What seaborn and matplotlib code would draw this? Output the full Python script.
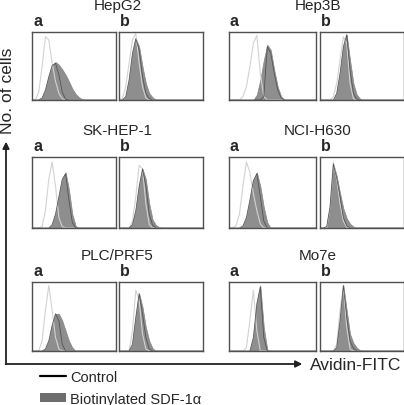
import matplotlib.pyplot as plt
import numpy as np
import seaborn as sns
from matplotlib.lines import Line2D
from matplotlib.patches import Patch

sns.set_style("white")
plt.rcParams["font.family"] = ["Liberation Sans", "DejaVu Sans"]

# Fluorescence channel grid (relative scale 0-100); counts normalised to panel height
channels = [0, 4, 8, 12, 16, 20, 24, 28, 32, 36, 40, 44, 48, 52,
            56, 60, 64, 68, 72, 76, 80, 84, 88, 92, 96, 100]

cell_lines = ["HepG2", "Hep3B", "SK-HEP-1", "NCI-H630", "PLC/PRF5", "Mo7e"]
conditions = ["a", "b"]

# control (light line), biotinylated SDF-1a (filled), dark overlay line
hepg2_a_ctrl = [0, 0, .12, .5, .95, .9, .55, .28, .1, .02, 0]
hepg2_a_sdf = [0, 0, 0, .03, .15, .35, .52, .57, .53, .46, .38, .28, .17, .09, .04, .01, 0]
hepg2_a_dark = [0, 0, 0, .03, .15, .35, .52, .55, .38, .12, .01, 0]
hepg2_b_ctrl = [0, .02, .2, .55, .9, 1.0, .55, .2, .03, 0]
hepg2_b_sdf = [0, 0, .05, .3, .7, .92, .8, .5, .25, .1, .04, 0]
hepg2_b_dark = [0, 0, .05, .3, .7, .92, .75, .35, .1, .02, 0]

hep3b_a_ctrl = [0, 0, 0, 0, .05, .2, .5, .85, .97, .4, .05, 0]
hep3b_a_sdf = [0, 0, 0, 0, 0, 0, 0, 0, .08, .3, .6, .83, .75, .45, .2, .05, 0]
hep3b_a_dark = [0, 0, 0, 0, 0, 0, 0, 0, 0, 0, .05, .8, .7, .4, .15, .03, 0]
hep3b_b_ctrl = [0, 0, 0, 0, .05, .25, .6, .95, .85, .25, .02, 0]
hep3b_b_sdf = [0, 0, 0, 0, 0, .1, .4, .8, .98, .6, .25, .08, .02, 0]
hep3b_b_dark = [0, 0, 0, 0, 0, .1, .4, .8, .98, .45, .1, .01, 0]

skhep1_a_ctrl = [0, 0, 0, .02, .25, .7, .95, .6, .15, .02, 0]
skhep1_a_sdf = [0, 0, 0, 0, 0, 0, .05, .2, .45, .7, .8, .55, .2, .03, 0]
skhep1_a_dark = [0, 0, 0, 0, 0, 0, .05, .2, .45, .7, .78, .4, .08, 0]
skhep1_b_ctrl = [0, 0, 0, 0, .1, .45, .9, .85, .35, .05, 0]
skhep1_b_sdf = [0, 0, 0, 0, .05, .25, .6, .85, .7, .35, .12, .04, .01, 0]
skhep1_b_dark = [0, 0, 0, 0, .05, .25, .6, .85, .6, .2, .04, 0]

ncih630_a_ctrl = [0, 0, .03, .2, .6, .95, .8, .5, .25, .06, 0]
ncih630_a_sdf = [0, 0, 0, 0, .03, .15, .4, .68, .8, .6, .3, .08, 0]
ncih630_a_dark = [0, 0, 0, 0, .03, .15, .4, .68, .78, .45, .1, 0]
ncih630_b_ctrl = [0, 0, 0, .3, .95, .7, .35, .1, .01, 0]
ncih630_b_sdf = [0, 0, .02, .3, .92, .75, .5, .28, .14, .06, .02, 0]
ncih630_b_dark = [0, 0, .02, .3, .92, .72, .45, .15, .03, 0]

plc_a_ctrl = [0, 0, 0, .15, .6, .97, .6, .2, .03, 0]
plc_a_sdf = [0, 0, 0, 0, .03, .15, .38, .55, .55, .45, .3, .15, .05, 0]
plc_a_dark = [0, 0, 0, 0, .03, .15, .38, .55, .45, .1, 0]
plc_b_ctrl = [0, 0, 0, 0, .3, .9, .75, .25, .03, 0]
plc_b_sdf = [0, 0, 0, 0, .1, .5, .85, .65, .35, .15, .04, 0]
plc_b_dark = [0, 0, 0, 0, .1, .5, .85, .55, .2, .03, 0]

mo7e_a_ctrl = [0, 0, 0, 0, 0, .05, .45, .9, .3, 0]
mo7e_a_sdf = [0, 0, 0, 0, 0, 0, 0, .2, .7, .97, .35, .02, 0]
mo7e_a_dark = [0, 0, 0, 0, 0, 0, 0, .2, .7, .95, .2, 0]
mo7e_b_ctrl = [0, 0, 0, 0, 0, .1, .6, .95, .35, .03, 0]
mo7e_b_sdf = [0, 0, 0, 0, 0, .05, .45, .97, .6, .25, .12, .05, .01, 0]
mo7e_b_dark = [0, 0, 0, 0, 0, .05, .45, .97, .5, .15, .04, 0]

histograms = {
    "HepG2": [(hepg2_a_ctrl, hepg2_a_sdf, hepg2_a_dark), (hepg2_b_ctrl, hepg2_b_sdf, hepg2_b_dark)],
    "Hep3B": [(hep3b_a_ctrl, hep3b_a_sdf, hep3b_a_dark), (hep3b_b_ctrl, hep3b_b_sdf, hep3b_b_dark)],
    "SK-HEP-1": [(skhep1_a_ctrl, skhep1_a_sdf, skhep1_a_dark), (skhep1_b_ctrl, skhep1_b_sdf, skhep1_b_dark)],
    "NCI-H630": [(ncih630_a_ctrl, ncih630_a_sdf, ncih630_a_dark), (ncih630_b_ctrl, ncih630_b_sdf, ncih630_b_dark)],
    "PLC/PRF5": [(plc_a_ctrl, plc_a_sdf, plc_a_dark), (plc_b_ctrl, plc_b_sdf, plc_b_dark)],
    "Mo7e": [(mo7e_a_ctrl, mo7e_a_sdf, mo7e_a_dark), (mo7e_b_ctrl, mo7e_b_sdf, mo7e_b_dark)],
}

W, H = 404, 406
col_x = [(32, 116), (119, 203), (229, 316), (320, 403.5)]
row_y = [(33, 101), (158, 229), (283, 352)]


def full(values):
    # pad trailing empty channels with zero counts
    return np.pad(np.array(values, dtype=float), (0, len(channels) - len(values)))


def fig_xy(x, y):
    return x / W, 1 - y / H


fig = plt.figure(figsize=(W / 100, H / 100), dpi=100)

for g, name in enumerate(cell_lines):
    row, side = divmod(g, 2)
    y0, y1 = row_y[row]
    for k, cond in enumerate(conditions):
        x0, x1 = col_x[2 * side + k]
        ax = fig.add_axes([x0 / W, 1 - y1 / H, (x1 - x0) / W, (y1 - y0) / H])
        ctrl, sdf, dark = (full(v) for v in histograms[name][k])
        sns.lineplot(x=channels, y=ctrl, ax=ax, color="#d2d2d2", linewidth=0.8)
        ax.fill_between(channels, sdf, color="#8e8e8e", edgecolor="#858585", linewidth=0.5)
        sns.lineplot(x=channels, y=dark, ax=ax, color="#505050", linewidth=0.55)
        ax.set_xlim(0, 100)
        ax.set_ylim(0, 1.02)
        ax.set_xticks([])
        ax.set_yticks([])
        ax.set_xlabel("")
        ax.set_ylabel("")
        for sp in ax.spines.values():
            sp.set_color("#505050")
            sp.set_linewidth(1.0)
        fx, fy = fig_xy(x0 + 1, y0 - 4)
        fig.text(fx, fy, cond, fontsize=11.5, fontweight="bold", ha="left", va="bottom")
    cx = (col_x[2 * side][1] + col_x[2 * side + 1][0]) / 2
    fx, fy = fig_xy(cx, y0 - 27)
    fig.text(fx, fy, name, fontsize=11, ha="center", va="center")

# axis arrows
fig.add_artist(plt.annotate("", xy=fig_xy(6, 143), xytext=fig_xy(6, 365.5),
                            xycoords="figure fraction", textcoords="figure fraction",
                            arrowprops=dict(arrowstyle="-|>", lw=1.0, color="#222222",
                                            mutation_scale=10, shrinkA=0, shrinkB=0)))
fig.add_artist(plt.annotate("", xy=fig_xy(302, 365), xytext=fig_xy(5.5, 365),
                            xycoords="figure fraction", textcoords="figure fraction",
                            arrowprops=dict(arrowstyle="-|>", lw=1.0, color="#222222",
                                            mutation_scale=10, shrinkA=0, shrinkB=0)))

fx, fy = fig_xy(8, 91)
fig.text(fx, fy, "No. of cells", fontsize=12.5, rotation=90, ha="center", va="center")
fx, fy = fig_xy(310, 366)
fig.text(fx, fy, "Avidin-FITC", fontsize=12.5, ha="left", va="center")

handles = [Line2D([], [], color="black", lw=1.6),
           Patch(facecolor="#6e6e6e", edgecolor="none")]
fig.legend(handles, ["Control", "Biotinylated SDF-1\u03b1"], loc="upper left",
           bbox_to_anchor=fig_xy(28, 359), frameon=False, fontsize=10.5,
           handlelength=1.8, handleheight=0.6, handletextpad=0.3, labelspacing=0.55,
           borderpad=0.3)

fig.savefig("out.png", dpi=100)
